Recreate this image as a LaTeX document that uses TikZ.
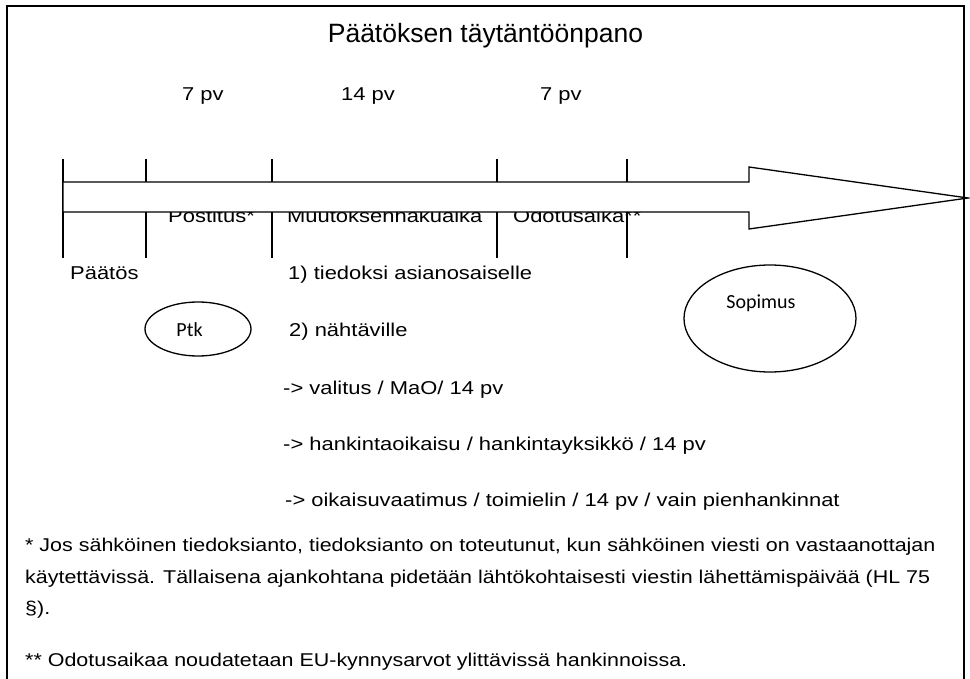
\documentclass[tikz,border=0pt]{standalone}
\usepackage{fontspec}
\usetikzlibrary{shapes.geometric}
\setmainfont{Liberation Sans}
\newfontfamily\lblfont[FakeStretch=1.18]{Liberation Sans}
\newfontfamily\notefont[FakeStretch=1.16]{Liberation Sans}
\newfontfamily\calfont{Carlito}
\begin{document}
\begin{tikzpicture}[x=1pt,y=-1pt,
  lbl/.style={inner sep=0pt,anchor=base west,font=\lblfont\fontsize{18.6}{20}\selectfont},
  note/.style={inner sep=0pt,anchor=base west,font=\notefont\fontsize{18.5}{20}\selectfont},
  tick/.style={line width=1.4pt},
  oval/.style={draw,ellipse,line width=1.3pt,inner sep=0pt},
  frame/.style={line width=2pt}]
\useasboundingbox (0,0) rectangle (970,679);
% frame
\draw[frame] (7,680) -- (7,6) -- (964,6) -- (964,680);
% title
\node[inner sep=0pt,anchor=base,font=\fontsize{26.5}{28}\selectfont] (title) at (485.5,43) {Päätöksen täytäntöönpano};
% durations
\node[lbl] (d1) at (182,101) {7 pv};
\node[lbl] (d2) at (341,101) {14 pv};
\node[lbl] (d3) at (540,101) {7 pv};
% ticks
\draw[tick] (63,159) -- (63,258);
\draw[tick] (146,159) -- (146,258);
\draw[tick] (272,159) -- (272,258);
\draw[tick] (497,159) -- (497,258);
\draw[tick] (627,159) -- (627,258);
% phase labels (partly hidden by the arrow)
\node[lbl] (p1) at (168,223) {Postitus*};
\node[lbl] (p2) at (287,223) {Muutoksenhakuaika};
\node[lbl] (p3) at (513,223) {Odotusaika**};
% block arrow
\draw[line width=1.3pt,fill=white,line join=miter]
  (63,182) -- (749,182) -- (749,167) -- (968,198) -- (749,229) -- (749,212) -- (63,212) -- cycle;
% labels below
\node[lbl] (paatos) at (70,280) {Päätös};
\node[lbl] (t1) at (288,280) {1) tiedoksi asianosaiselle};
\node[lbl] (t2) at (289,337) {2) nähtäville};
\node[lbl] (t3) at (283,394) {-> valitus / MaO/ 14 pv};
\node[lbl] (t4) at (283,450) {-> hankintaoikaisu / hankintayksikkö / 14 pv};
\node[lbl] (t5) at (285,506) {-> oikaisuvaatimus / toimielin / 14 pv / vain pienhankinnat};
% ellipses
\node[oval,minimum width=106pt,minimum height=54pt] (ptk) at (198,329) {};
\node[inner sep=0pt,font=\calfont\fontsize{20}{22}\selectfont] (ptkt) at (189.5,330) {Ptk};
\node[oval,minimum width=172pt,minimum height=107pt] (sop) at (770,318.5) {};
\node[inner sep=0pt,font=\calfont\fontsize{20}{22}\selectfont] (sopt) at (761,303) {Sopimus};
% footnotes
\node[note] (f1) at (25,551) {* Jos sähköinen tiedoksianto, tiedoksianto on toteutunut, kun sähköinen viesti on vastaanottajan};
\node[note] (f2) at (25,583) {käytettävissä. Tällaisena ajankohtana pidetään lähtökohtaisesti viestin lähettämispäivää (HL 75};
\node[note] (f3) at (25,614) {§).};
\node[note] (f4) at (25,666) {** Odotusaikaa noudatetaan EU-kynnysarvot ylittävissä hankinnoissa.};
\end{tikzpicture}
\end{document}
